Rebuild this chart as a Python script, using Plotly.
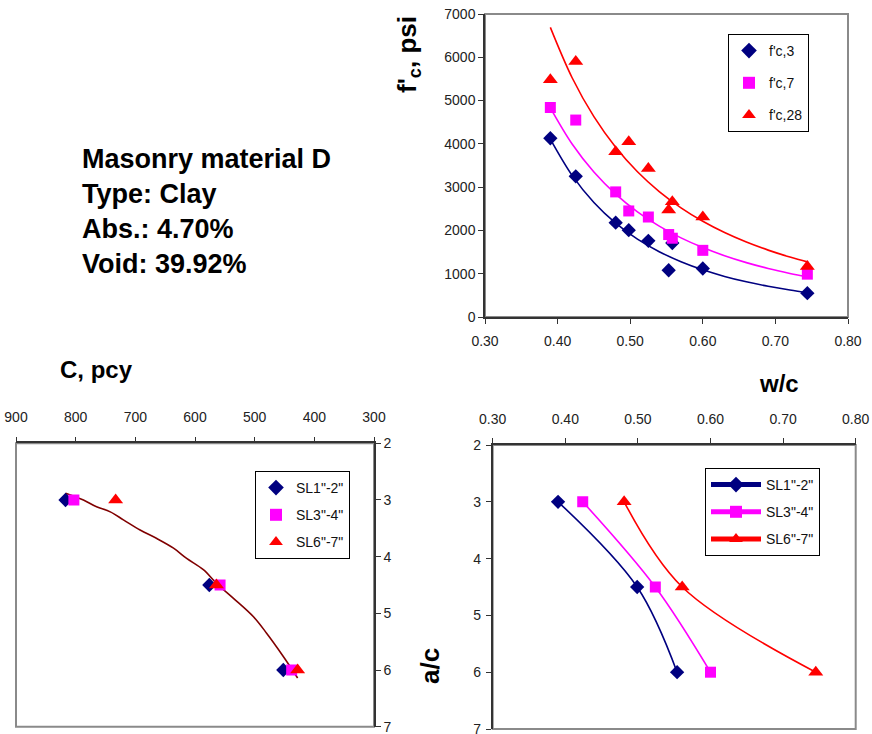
import plotly.graph_objects as go

W, H = 872, 734

# ---------------- data ----------------
# Top-right chart: compressive strength vs w/c
wc = [0.390, 0.425, 0.480, 0.498, 0.525, 0.553, 0.558, 0.600, 0.744]
fc3 = [4130, 3250, 2180, 2005, 1760, 1080, 1710, 1120, 550]
fc7 = [4840, 4550, 2890, 2450, 2310, 1905, 1820, 1540, 990]
fc28 = [5480, 5900, 3820, 4050, 3430, 2470, 2660, 2310, 1165]

# trend lines
trend_wc = [0.39, 0.42, 0.45, 0.48, 0.51, 0.54, 0.57, 0.60, 0.63, 0.66, 0.69, 0.72, 0.745]
trend3 = [4110, 3272, 2645, 2168, 1799, 1509, 1277, 1090, 938, 813, 709, 622, 560]
trend7 = [4830, 3995, 3349, 2839, 2430, 2100, 1828, 1604, 1415, 1256, 1121, 1006, 921]
trend28 = [6690, 5527, 4628, 3922, 3356, 2898, 2523, 2211, 1950, 1731, 1545, 1385, 1268]

# a/c levels
ac = [3, 4.5, 6]

# Bottom-left chart: cement content vs a/c
c_sl1 = [817, 576, 452]
c_sl3 = [803, 558, 438]
c_sl6 = [733, 564, 428]
c_trend = [817, 787, 765, 742, 720, 692, 664, 636, 614, 586, 564, 536, 502, 480, 452, 428]
ac_trend = [2.88, 3.0, 3.12, 3.21, 3.35, 3.53, 3.68, 3.85, 4.03, 4.23, 4.47, 4.73, 5.06, 5.35, 5.76, 6.14]

# Bottom-right chart: w/c vs a/c
wc_sl1 = [0.390, 0.499, 0.554]
wc_sl3 = [0.424, 0.524, 0.600]
wc_sl6 = [0.481, 0.561, 0.745]

legend_top = ["f'c,3", "f'c,7", "f'c,28"]
legend_sl = ['SL1"-2"', 'SL3"-4"', 'SL6"-7"']

info_lines = ["Masonry material D", "Type: Clay", "Abs.: 4.70%", "Void: 39.92%"]

# ---------------- styles ----------------
NAVY = "#000080"
MAG = "#FF00FF"
RED = "#FF0000"
MAROON = "#800000"
FONT = "Liberation Sans, Arial, sans-serif"
AX = "#333333"
FRAME = "#8a8a8a"

def px_x(p):
    return p / W

def px_y(p):
    return 1 - p / H

fig = go.Figure()

# ---- top-right chart ----
sym = ["diamond", "square", "triangle-up"]
sizes = [11, 11, 13]
cols = [NAVY, MAG, RED]
for name, vals, tr, s, sz, c, g in zip(legend_top, [fc3, fc7, fc28], [trend3, trend7, trend28],
                                       sym, sizes, cols, ["a", "b", "c"]):
    fig.add_trace(go.Scatter(x=trend_wc, y=tr, mode="lines", line=dict(color=c, width=1.6, shape="spline"),
                             showlegend=False, hoverinfo="skip", xaxis="x", yaxis="y"))
    fig.add_trace(go.Scatter(x=wc, y=vals, mode="markers", name=name, legendgroup=g,
                             marker=dict(symbol=s, size=sz, color=c), xaxis="x", yaxis="y",
                             legend="legend"))

# ---- bottom-left chart ----
fig.add_trace(go.Scatter(x=c_trend, y=ac_trend, mode="lines", line=dict(color=MAROON, width=1.6, shape="spline"),
                         showlegend=False, hoverinfo="skip", xaxis="x2", yaxis="y2"))
for name, vals, s, sz, c, g in zip(legend_sl, [c_sl1, c_sl3, c_sl6], sym, sizes, cols, ["d", "e", "f"]):
    fig.add_trace(go.Scatter(x=vals, y=ac, mode="markers", name=name, legendgroup=g,
                             marker=dict(symbol=s, size=sz, color=c), xaxis="x2", yaxis="y2",
                             legend="legend2"))

# ---- bottom-right chart ----
for name, vals, s, sz, c, g in zip(legend_sl, [wc_sl1, wc_sl3, wc_sl6], sym, sizes, cols, ["g", "h", "i"]):
    fig.add_trace(go.Scatter(x=vals, y=ac, mode="lines+markers", name=name, legendgroup=g,
                             line=dict(color=c, width=1.6, shape="spline"),
                             marker=dict(symbol=s, size=sz, color=c), xaxis="x3", yaxis="y3",
                             legend="legend3"))

tickfont = dict(family=FONT, size=14, color="#222222")
common = dict(showgrid=False, zeroline=False, showline=True, linecolor=AX, linewidth=1.5,
              ticks="outside", ticklen=5, tickwidth=1, tickcolor=AX, tickfont=tickfont,
              automargin=False, ticklabeloverflow="allow")

layout = dict(
    width=W, height=H, margin=dict(l=0, r=0, t=0, b=0, autoexpand=False),
    paper_bgcolor="white", plot_bgcolor="white",
    xaxis=dict(domain=[px_x(485), px_x(848)], range=[0.3, 0.8], dtick=0.1, tickformat=".2f",
               anchor="y", ticklabelstandoff=5, **common),
    yaxis=dict(domain=[px_y(317), px_y(14)], range=[0, 7000], dtick=1000, anchor="x", **common),
    xaxis2=dict(domain=[px_x(16), px_x(374)], range=[900, 300], dtick=100, side="top",
                anchor="y2", ticklabelstandoff=9, **common),
    yaxis2=dict(domain=[px_y(726.7), px_y(443.3)], range=[7, 2], dtick=1, side="right",
                anchor="x2", **common),
    xaxis3=dict(domain=[px_x(492.7), px_x(855.7)], range=[0.3, 0.8], dtick=0.1, tickformat=".2f",
                side="top", anchor="y3", ticklabelstandoff=9, **common),
    yaxis3=dict(domain=[px_y(729), px_y(445)], range=[7, 2], dtick=1, anchor="x3",
                ticklabelstandoff=2, **common),
    showlegend=True,
)

legfont = dict(family=FONT, size=14, color="#111111")
layout["legend"] = dict(x=px_x(728), y=px_y(34), xanchor="left", yanchor="top",
                        bordercolor="black", borderwidth=1, bgcolor="white", font=legfont,
                        traceorder="grouped", tracegroupgap=11, itemsizing="constant")
layout["legend2"] = dict(x=px_x(255), y=px_y(471), xanchor="left", yanchor="top",
                         bordercolor="black", borderwidth=1, bgcolor="white", font=legfont,
                         traceorder="grouped", tracegroupgap=6, itemsizing="constant")
layout["legend3"] = dict(x=px_x(705), y=px_y(468), xanchor="left", yanchor="top",
                         bordercolor="black", borderwidth=1, bgcolor="white", font=legfont,
                         traceorder="grouped", tracegroupgap=6, itemsizing="constant", itemwidth=50)

fig.update_layout(**layout)

# plot-area frames
for xr, yr in [("x", "y"), ("x2", "y2"), ("x3", "y3")]:
    fig.add_shape(type="rect", xref=f"{xr} domain", yref=f"{yr} domain", x0=0, x1=1, y0=0, y1=1,
                  line=dict(color=FRAME, width=2), layer="below")

# axis titles
tfont = dict(family=FONT, size=24, color="black")
rfont = dict(family=FONT, size=26, color="black")
fig.add_annotation(x=px_x(409), y=px_y(55), xref="paper", yref="paper", text="<b>f'<sub>c</sub>, psi</b>",
                   textangle=-90, showarrow=False, font=rfont, xanchor="center", yanchor="middle")
fig.add_annotation(x=px_x(779), y=px_y(384), xref="paper", yref="paper", text="<b>w/c</b>",
                   showarrow=False, font=tfont, xanchor="center", yanchor="middle")
fig.add_annotation(x=px_x(96), y=px_y(369), xref="paper", yref="paper", text="<b>C, pcy</b>",
                   showarrow=False, font=tfont, xanchor="center", yanchor="middle")
fig.add_annotation(x=px_x(430), y=px_y(666), xref="paper", yref="paper", text="<b>a/c</b>",
                   textangle=-90, showarrow=False, font=rfont, xanchor="center", yanchor="middle")

# info text block
ifont = dict(family=FONT, size=27, color="black")
for i, line in enumerate(info_lines):
    fig.add_annotation(x=px_x(80), y=px_y(159 + 35 * i), xref="paper", yref="paper",
                       text=f"<b>{line}</b>", showarrow=False, font=ifont,
                       xanchor="left", yanchor="middle")

fig.write_html("out.html", config={"displayModeBar": False},
               post_script="document.body.style.margin='0';document.body.style.padding='0';")
